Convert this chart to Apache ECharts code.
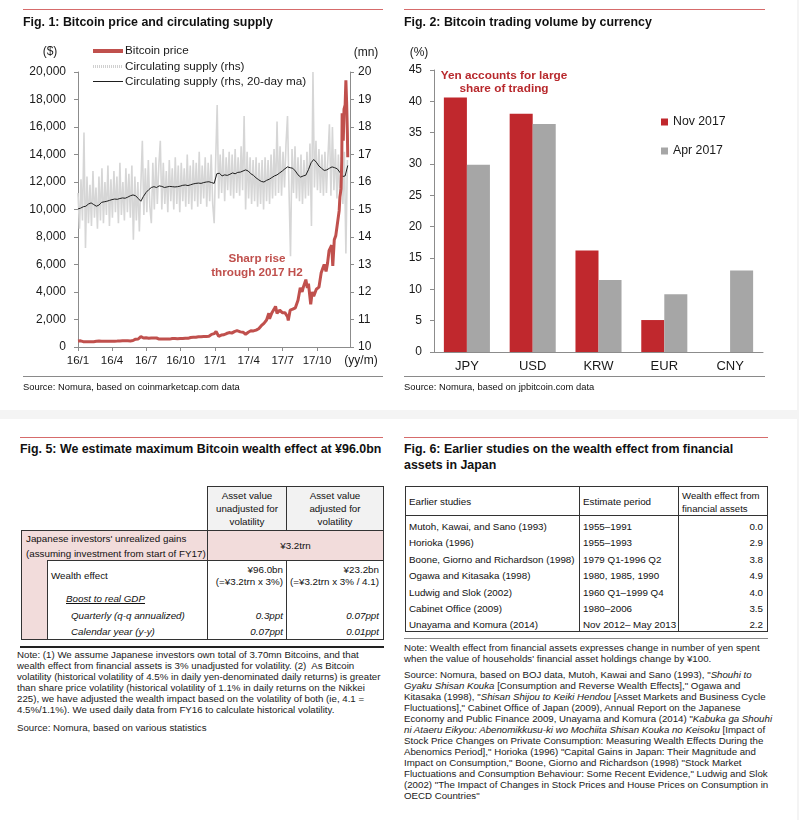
<!DOCTYPE html>
<html><head><meta charset="utf-8">
<script src="https://cdn.jsdelivr.net/npm/echarts@6/dist/echarts.min.js"></script>
<style>
body{margin:0;background:#fff;}
#page{position:relative;width:799px;height:820px;overflow:hidden;background:#fff;font-family:"Liberation Sans",Arial,sans-serif;color:#111;}
.t{position:absolute;white-space:nowrap;line-height:12px;}
.b{font-weight:bold;}
.i{font-style:italic;}
.r{text-align:right;}
.c{text-align:center;}
.box{position:absolute;box-sizing:border-box;}
.ln{position:absolute;}
.note{position:absolute;white-space:nowrap;font-size:9.7px;line-height:11px;color:#1a1a1a;}
.tb{font-size:9.8px;}
</style></head><body><div id="page">
<div class="ln" style="left:0;top:410px;width:799px;height:9px;background:#f4f4f4"></div>
<div class="ln" style="left:797px;top:0;width:2px;height:820px;background:#f4f4f4"></div>
<div class="ln" style="left:23px;top:9px;width:360px;height:1px;background:#d66b6b"></div>
<div class="ln" style="left:404px;top:9px;width:361px;height:1px;background:#d66b6b"></div>
<div class="ln" style="left:20px;top:437px;width:363px;height:1px;background:#d66b6b"></div>
<div class="ln" style="left:404px;top:437px;width:364px;height:1px;background:#d66b6b"></div>
<div class="ln" style="left:23px;top:376px;width:360px;height:1px;background:#8a8a8a"></div>
<div class="ln" style="left:404px;top:376px;width:361px;height:1px;background:#8a8a8a"></div>

<div id="chart" style="position:absolute;left:0;top:0;width:799px;height:400px"></div>

<div class="t b" style="left:23px;top:16px;font-size:12.4px">Fig. 1: Bitcoin price and circulating supply</div>
<div class="t b" style="left:404px;top:16px;font-size:12.4px">Fig. 2: Bitcoin trading volume by currency</div>
<div class="t" style="left:23px;top:381px;font-size:9.4px">Source: Nomura, based on coinmarketcap.com data</div>
<div class="t" style="left:404px;top:381px;font-size:9.4px">Source: Nomura, based on jpbitcoin.com data</div>

<!-- Fig 5 -->
<div class="t b" style="left:20px;top:443px;font-size:12.4px">Fig. 5: We estimate maximum Bitcoin wealth effect at ¥96.0bn</div>
<div class="box" style="left:207px;top:486px;width:80px;height:45px;background:#f2f2f2;border:1px solid #333"></div>
<div class="box" style="left:286px;top:486px;width:98px;height:45px;background:#f2f2f2;border:1px solid #333"></div>
<div class="box" style="left:21px;top:530px;width:363px;height:31px;background:#f2dcdb;border:1px solid #333"></div>
<div class="ln" style="left:207px;top:530px;width:1px;height:31px;background:#333"></div>
<div class="box" style="left:21px;top:560px;width:27px;height:80px;background:#f2dcdb;border-left:1px solid #333"></div>
<div class="ln" style="left:47px;top:560px;width:1px;height:80px;background:#333"></div>
<div class="ln" style="left:207px;top:560px;width:1px;height:80px;background:#333"></div>
<div class="ln" style="left:286px;top:560px;width:1px;height:80px;background:#333"></div>
<div class="ln" style="left:383px;top:560px;width:1px;height:80px;background:#333"></div>
<div class="ln" style="left:21px;top:639px;width:363px;height:1px;background:#333"></div>
<div class="ln" style="left:20px;top:646px;width:364px;height:2px;background:#222"></div>
<div class="t c tb" style="left:207px;width:80px;top:489px;line-height:13px">Asset value<br>unadjusted for<br>volatility</div>
<div class="t c tb" style="left:286px;width:98px;top:489px;line-height:13px">Asset value<br>adjusted for<br>volatility</div>
<div class="t tb" style="left:26px;top:531px;line-height:15px">Japanese investors' unrealized gains<br>(assuming investment from start of FY17)</div>
<div class="t c tb" style="left:207px;width:177px;top:540px">¥3.2trn</div>
<div class="t tb" style="left:51px;top:570px">Wealth effect</div>
<div class="t r tb" style="left:207px;width:76px;top:564px">¥96.0bn</div>
<div class="t r tb" style="left:207px;width:76px;top:576px">(=¥3.2trn x 3%)</div>
<div class="t r tb" style="left:286px;width:93px;top:564px">¥23.2bn</div>
<div class="t r tb" style="left:286px;width:93px;top:576px">(=¥3.2trn x 3% / 4.1)</div>
<div class="t i tb" style="left:66px;top:593px;text-decoration:underline">Boost to real GDP</div>
<div class="t i tb" style="left:71px;top:610px">Quarterly (q-q annualized)</div>
<div class="t i tb" style="left:71px;top:626px">Calendar year (y-y)</div>
<div class="t i r tb" style="left:207px;width:76px;top:610px">0.3ppt</div>
<div class="t i r tb" style="left:286px;width:93px;top:610px">0.07ppt</div>
<div class="t i r tb" style="left:207px;width:76px;top:626px">0.07ppt</div>
<div class="t i r tb" style="left:286px;width:93px;top:626px">0.01ppt</div>
<div class="note" style="left:17px;top:649px">Note: (1) We assume Japanese investors own total of 3.70mn Bitcoins, and that<br>wealth effect from financial assets is 3% unadjusted for volatility. (2)&nbsp; As Bitcoin<br>volatility (historical volatility of 4.5% in daily yen-denominated daily returns) is greater<br>than share price volatility (historical volatility of 1.1% in daily returns on the Nikkei<br>225), we have adjusted the wealth impact based on the volatility of both (ie, 4.1 =<br>4.5%/1.1%). We used daily data from FY16 to calculate historical volatility.</div>
<div class="note" style="left:17px;top:722px">Source: Nomura, based on various statistics</div>

<!-- Fig 6 -->
<div class="t b" style="left:404px;top:441px;font-size:12.4px;line-height:16px">Fig. 6: Earlier studies on the wealth effect from financial<br>assets in Japan</div>
<div class="box" style="left:405px;top:486px;width:363px;height:146px;border:1px solid #333"></div>
<div class="ln" style="left:405px;top:515px;width:363px;height:1px;background:#333"></div>
<div class="ln" style="left:579px;top:486px;width:1px;height:146px;background:#333"></div>
<div class="ln" style="left:678px;top:486px;width:1px;height:146px;background:#333"></div>
<div class="ln" style="left:404px;top:638px;width:364px;height:1px;background:#8a8a8a"></div>
<div class="t tb" style="left:409px;top:496px">Earlier studies</div>
<div class="t tb" style="left:583px;top:496px">Estimate period</div>
<div class="t" style="left:682px;top:489px;font-size:9.6px;line-height:13px">Wealth effect from<br>financial assets</div>
<div id="t6"></div>
<div class="note" style="left:404px;top:642px">Note: Wealth effect from financial assets expresses change in number of yen spent<br>when the value of households' financial asset holdings change by ¥100.</div>
<div class="note" style="left:404px;top:669px">Source: Nomura, based on BOJ data, Mutoh, Kawai and Sano (1993), "<i>Shouhi to</i><br><i>Gyaku Shisan Kouka</i> [Consumption and Reverse Wealth Effects]," Ogawa and<br>Kitasaka (1998), "<i>Shisan Shijou to Keiki Hendou</i> [Asset Markets and Business Cycle<br>Fluctuations]," Cabinet Office of Japan (2009), Annual Report on the Japanese<br>Economy and Public Finance 2009, Unayama and Komura (2014) "<i>Kabuka ga Shouhi</i><br><i>ni Ataeru Eikyou: Abenomikkusu-ki wo Mochiita Shisan Kouka no Keisoku</i> [Impact of<br>Stock Price Changes on Private Consumption: Measuring Wealth Effects During the<br>Abenomics Period]," Horioka (1996) "Capital Gains in Japan: Their Magnitude and<br>Impact on Consumption," Boone, Giorno and Richardson (1998) "Stock Market<br>Fluctuations and Consumption Behaviour: Some Recent Evidence," Ludwig and Slok<br>(2002) "The Impact of Changes in Stock Prices and House Prices on Consumption in<br>OECD Countries"</div>
</div>
<script>
// ---------- Fig 1 data ----------
const priceDates = ['2016-01-01','2016-01-08','2016-01-15','2016-01-22','2016-01-29','2016-02-05','2016-02-12','2016-02-19','2016-02-26','2016-03-04','2016-03-11','2016-03-18','2016-03-25','2016-04-01','2016-04-08','2016-04-15','2016-04-22','2016-04-29','2016-05-06','2016-05-13','2016-05-20','2016-05-27','2016-06-03','2016-06-10','2016-06-17','2016-06-24','2016-07-01','2016-07-08','2016-07-15','2016-07-22','2016-07-29','2016-08-05','2016-08-12','2016-08-19','2016-08-26','2016-09-02','2016-09-09','2016-09-16','2016-09-23','2016-09-30','2016-10-07','2016-10-14','2016-10-21','2016-10-28','2016-11-04','2016-11-11','2016-11-18','2016-11-25','2016-12-02','2016-12-09','2016-12-16','2016-12-23','2016-12-30','2017-01-04','2017-01-11','2017-01-18','2017-01-25','2017-02-01','2017-02-08','2017-02-15','2017-02-22','2017-03-01','2017-03-03','2017-03-10','2017-03-17','2017-03-24','2017-03-31','2017-04-07','2017-04-14','2017-04-21','2017-04-28','2017-05-05','2017-05-12','2017-05-19','2017-05-25','2017-05-27','2017-06-02','2017-06-09','2017-06-12','2017-06-16','2017-06-23','2017-06-30','2017-07-07','2017-07-14','2017-07-16','2017-07-21','2017-07-28','2017-08-04','2017-08-11','2017-08-17','2017-08-22','2017-08-25','2017-09-01','2017-09-05','2017-09-08','2017-09-14','2017-09-18','2017-09-22','2017-09-29','2017-10-06','2017-10-12','2017-10-16','2017-10-20','2017-10-25','2017-10-29','2017-11-02','2017-11-07','2017-11-09','2017-11-12','2017-11-16','2017-11-20','2017-11-24','2017-11-26','2017-11-29','2017-12-01','2017-12-04','2017-12-06','2017-12-07','2017-12-08','2017-12-10','2017-12-12','2017-12-15','2017-12-17','2017-12-19','2017-12-21','2017-12-22'];
const priceValues = [430,450,390,385,380,385,385,420,430,410,415,410,415,415,420,430,445,455,455,455,440,470,570,580,760,650,675,640,660,655,655,575,585,575,575,575,620,610,600,610,615,640,630,690,705,715,750,740,755,770,780,920,970,1130,780,870,890,980,1050,1010,1120,1190,1280,1100,1080,930,1070,1180,1170,1230,1330,1550,1720,1960,2450,2050,2480,2800,2950,2450,2680,2500,2500,2200,1930,2680,2750,2850,3400,4300,4000,4330,4900,4300,4600,3100,4000,3700,4200,4350,5400,5700,6000,5500,6100,7000,7100,7400,5900,7800,8100,8200,9300,9900,10900,11500,13500,17000,16000,15000,17300,17600,19400,17800,15500,13800];
const supplyMaStart = '2016-01-01';
const supplyMaStepDays = 7;
const supplyMaValues = [15.02,15.05,15.10,15.12,15.20,15.24,15.18,15.12,15.16,15.26,
15.28,15.30,15.33,15.36,15.38,15.37,15.40,15.42,15.41,15.45,
15.50,15.53,15.50,15.40,15.30,15.48,15.62,15.72,15.80,15.83,
15.80,15.86,15.84,15.80,15.82,15.84,15.83,15.82,15.83,15.85,
15.88,15.89,15.87,15.90,15.93,15.95,15.96,15.95,15.98,16.00,
16.01,15.98,15.95,16.30,16.32,16.22,16.26,16.24,16.28,16.33,
16.30,16.35,16.36,16.40,16.44,16.40,16.30,16.24,16.15,16.08,
16.02,16.00,16.06,16.10,16.16,16.22,16.26,16.33,16.40,16.48,
16.55,16.52,16.50,16.40,16.26,16.18,16.22,16.25,16.45,16.70,
16.82,16.72,16.58,16.50,16.42,16.44,16.50,16.55,16.52,16.48,
16.35,16.20,16.22,16.60];
const supplyStart = '2016-01-01';
const supplyStepDays = 4;
const supplyValues = [15.6,14.3,16.1,14.6,17.8,13.6,16.2,14.5,15.9,14.4,16.4,14.7,15.8,14.3,16.2,14.6,
16.5,14.5,16.0,14.8,16.6,14.4,16.1,14.7,16.4,14.9,16.2,14.5,16.7,14.8,16.0,14.6,16.5,
14.9,16.3,14.7,16.6,13.9,16.2,14.6,16.0,14.2,15.9,17.5,14.8,16.5,14.9,16.8,15.1,14.5,16.7,
15.0,16.9,15.2,16.6,17.5,15.0,16.7,15.2,16.4,14.9,16.8,15.3,16.5,15.0,16.9,15.2,16.6,14.9,16.7,15.3,
16.5,15.1,17.0,15.2,16.6,15.0,16.8,15.3,16.7,15.1,17.1,15.2,16.6,15.4,16.9,15.1,16.7,15.3,17.0,15.2,
14.5,16.8,18.8,15.4,17.0,15.6,17.2,15.3,16.9,15.7,17.1,15.5,17.0,15.4,
17.2,15.6,16.9,15.5,17.3,15.7,18.4,15.0,17.1,15.4,16.9,15.2,16.8,15.3,
16.9,15.1,16.7,15.2,16.8,15.0,16.9,15.3,16.8,15.2,17.0,15.4,
17.2,15.5,18.2,15.6,17.3,15.5,17.1,15.8,17.4,18.4,15.7,13.3,17.2,15.6,17.3,15.4,16.9,15.3,17.0,15.2,16.8,15.4,
17.1,15.5,17.4,14.4,20.0,15.8,17.5,15.7,17.2,15.6,17.0,15.5,17.1,15.6,
16.9,18.1,15.5,18.0,15.7,17.2,15.4,17.0,15.3,16.9,15.2,17.1,13.4,16.8];
const fig1AxisStart = '2016-01-01';
const fig1AxisEnd = '2017-12-28';
const fig1LabelMonths = [1,4,7,10];
const fig1LeftTicks = {min:0,max:20000,interval:2000};
const fig1RightTicks = {min:10,max:20,interval:1};

// ---------- Fig 2 data ----------
const currencies = ['JPY','USD','KRW','EUR','CNY'];
const nov2017 = [40.6,38.0,16.2,5.1,null];
const apr2017 = [29.9,36.4,11.5,9.2,13.0];
const fig2Ticks = {min:0,max:45,interval:5};

// ---------- Fig 6 table ----------
const studies = ['Mutoh, Kawai, and Sano (1993)','Horioka (1996)','Boone, Giorno and Richardson (1998)','Ogawa and Kitasaka (1998)','Ludwig and Slok (2002)','Cabinet Office (2009)','Unayama and Komura (2014)'];
const periods = ['1955\u20131991','1955\u20131993','1979 Q1-1996 Q2','1980, 1985, 1990','1960 Q1\u20131999 Q4','1980\u20132006','Nov 2012\u2013 May 2013'];
const wealthEffects = ['0.0','2.9','3.8','4.9','4.0','3.5','2.2'];

(function(){
  const host=document.getElementById('t6');
  let h='';
  for(let i=0;i<studies.length;i++){
    const top=521+i*16.4;
    h+='<div class="t tb" style="left:409px;top:'+top+'px">'+studies[i]+'</div>';
    h+='<div class="t tb" style="left:583px;top:'+top+'px">'+periods[i]+'</div>';
    h+='<div class="t r tb" style="left:680px;width:83px;top:'+top+'px">'+wealthEffects[i]+'</div>';
  }
  host.outerHTML=h;
})();

const DAY=86400000;
const toUTC=s=>Date.UTC(+s.slice(0,4),+s.slice(5,7)-1,+s.slice(8,10));
const T0=toUTC(fig1AxisStart);
const nDays=Math.round((toUTC(fig1AxisEnd)-T0)/DAY);
const dayCats=[];
for(let i=0;i<=nDays;i++){dayCats.push(new Date(T0+i*DAY).toISOString().slice(0,10));}
const idxOf=s=>Math.round((toUTC(s)-T0)/DAY);
const priceData=priceDates.map((d,i)=>[idxOf(d),priceValues[i]]);
const maData=supplyMaValues.map((v,i)=>[idxOf(supplyMaStart)+i*supplyMaStepDays,v]);
const supData=supplyValues.map((v,i)=>[idxOf(supplyStart)+i*supplyStepDays,v]);
const isLabel=(idx,val)=>{const m=+val.slice(5,7),d=+val.slice(8,10);return d===1&&fig1LabelMonths.indexOf(m)>=0;};
const fmtDay=val=>val.slice(2,4)+'/'+(+val.slice(5,7));
const thousands=v=>String(v).replace(/\B(?=(\d{3})+(?!\d))/g,',');

const AX='#8c8c8c', TX='#1a1a1a';
const chart=echarts.init(document.getElementById('chart'),null,{renderer:'canvas'});
chart.setOption({
  animation:false,
  textStyle:{fontFamily:'"Liberation Sans", Arial, sans-serif'},
  grid:[{left:78,top:72,width:272,height:275},{left:434,top:70,width:329,height:282}],
  xAxis:[
    {type:'category',gridIndex:0,data:dayCats,boundaryGap:false,
     axisLine:{lineStyle:{color:AX}},
     axisTick:{interval:isLabel,length:4,lineStyle:{color:AX}},
     axisLabel:{interval:isLabel,formatter:fmtDay,color:TX,fontSize:11.5,margin:8},
     splitLine:{show:false}},
    {type:'category',gridIndex:1,data:currencies,
     axisLine:{lineStyle:{color:AX}},axisTick:{show:false},
     axisLabel:{color:TX,fontSize:13,margin:8},splitLine:{show:false}}
  ],
  yAxis:[
    {type:'value',gridIndex:0,position:'left',min:fig1LeftTicks.min,max:fig1LeftTicks.max,interval:fig1LeftTicks.interval,
     axisLine:{show:true,lineStyle:{color:AX}},axisTick:{show:true,length:4,lineStyle:{color:AX}},
     axisLabel:{formatter:thousands,color:TX,fontSize:12,margin:12},splitLine:{show:false}},
    {type:'value',gridIndex:0,position:'right',min:fig1RightTicks.min,max:fig1RightTicks.max,interval:fig1RightTicks.interval,
     axisLine:{show:true,lineStyle:{color:AX}},axisTick:{show:true,length:4,lineStyle:{color:AX}},
     axisLabel:{color:TX,fontSize:12,margin:8},splitLine:{show:false}},
    {type:'value',gridIndex:1,min:fig2Ticks.min,max:fig2Ticks.max,interval:fig2Ticks.interval,
     axisLine:{show:true,lineStyle:{color:AX}},axisTick:{show:true,length:4,lineStyle:{color:AX}},
     axisLabel:{color:TX,fontSize:12,margin:12},splitLine:{show:false}}
  ],
  legend:{data:['Nov 2017','Apr 2017'],orient:'vertical',left:656,top:110,icon:'rect',itemWidth:7,itemHeight:7,itemGap:15,
    textStyle:{fontSize:12.3,color:TX,lineHeight:14},selectedMode:false},
  series:[
    {name:'Circulating supply (rhs)',type:'line',xAxisIndex:0,yAxisIndex:1,data:supData,showSymbol:false,symbol:'none',
     lineStyle:{color:'#d6d6d6',width:1.6},z:1,silent:true},
    {name:'Circulating supply (rhs, 20-day ma)',type:'line',xAxisIndex:0,yAxisIndex:1,data:maData,symbol:'none',
     lineStyle:{color:'#1e1e1e',width:1},z:2,silent:true},
    {name:'Bitcoin price',type:'line',xAxisIndex:0,yAxisIndex:0,data:priceData,symbol:'none',
     lineStyle:{color:'#c0504d',width:3},z:3,silent:true},
    {name:'Nov 2017',type:'bar',xAxisIndex:1,yAxisIndex:2,data:nov2017,itemStyle:{color:'#c0282d'},barGap:'0%',barCategoryGap:'30%'},
    {name:'Apr 2017',type:'bar',xAxisIndex:1,yAxisIndex:2,data:apr2017,itemStyle:{color:'#a6a6a6'},barGap:'0%',barCategoryGap:'30%'}
  ],
  graphic:[
    {type:'text',x:50,y:52,style:{text:'($)',fontSize:12,fill:TX,align:'center',verticalAlign:'middle'}},
    {type:'text',x:366,y:53,style:{text:'(mn)',fontSize:12,fill:TX,align:'center',verticalAlign:'middle'}},
    {type:'text',x:361,y:361,style:{text:'(yy/m)',fontSize:12,fill:TX,align:'center',verticalAlign:'middle'}},
    {type:'line',shape:{x1:93,y1:51,x2:123,y2:51},style:{stroke:'#c0504d',lineWidth:4}},
    {type:'line',shape:{x1:93,y1:66.5,x2:123,y2:66.5},style:{stroke:'#d0d0d0',lineWidth:3,lineDash:[1,1]}},
    {type:'line',shape:{x1:93,y1:81.5,x2:123,y2:81.5},style:{stroke:'#1e1e1e',lineWidth:1}},
    {type:'text',x:125,y:51,style:{text:'Bitcoin price',fontSize:11.7,fill:TX,verticalAlign:'middle'}},
    {type:'text',x:125,y:66.5,style:{text:'Circulating supply (rhs)',fontSize:11.7,fill:TX,verticalAlign:'middle'}},
    {type:'text',x:125,y:81.5,style:{text:'Circulating supply (rhs, 20-day ma)',fontSize:11.7,fill:TX,verticalAlign:'middle'}},
    {type:'text',x:257,y:266,style:{text:'Sharp rise\nthrough 2017 H2',fontSize:11.7,fontWeight:'bold',fill:'#c0504d',align:'center',verticalAlign:'middle',lineHeight:14}},
    {type:'text',x:419,y:53,style:{text:'(%)',fontSize:12,fill:TX,align:'center',verticalAlign:'middle'}},
    {type:'text',x:504,y:82,style:{text:'Yen accounts for large\nshare of trading',fontSize:11.8,fontWeight:'bold',fill:'#b8292d',align:'center',verticalAlign:'middle',lineHeight:13.5}}
  ]
});
</script>
</body></html>
